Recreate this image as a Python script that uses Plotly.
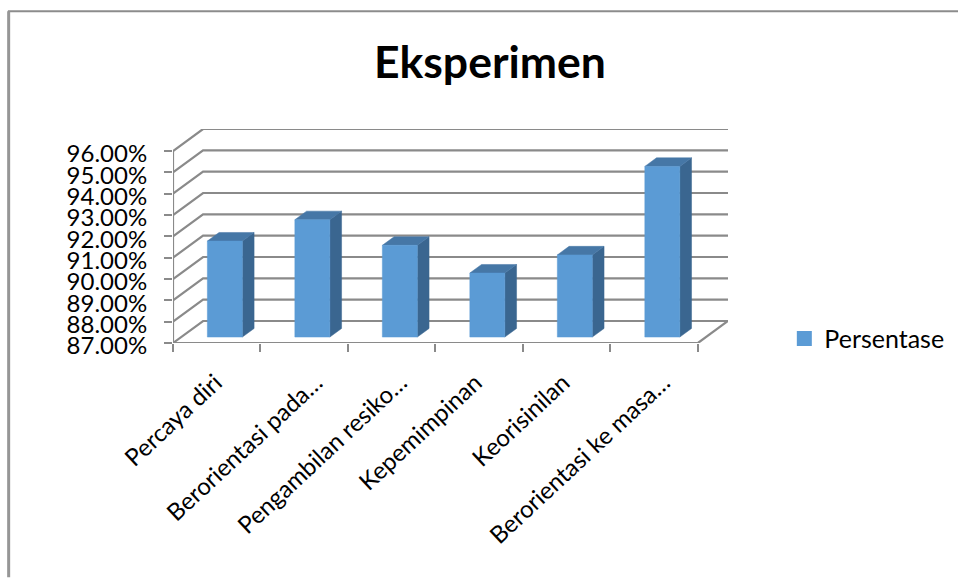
import plotly.graph_objects as go

# Chart content
categories = ["Percaya diri", "Berorientasi pada…", "Pengambilan resiko…",
              "Kepemimpinan", "Keorisinilan", "Berorientasi ke masa…"]
values = [91.5, 92.5, 91.3, 90.0, 90.85, 95.0]
y_ticks = [87, 88, 89, 90, 91, 92, 93, 94, 95, 96]
y_tick_labels = [f"{v:.2f}%" for v in y_ticks]
label_shift = [-0.015, 0.135, 0.10, -0.045, -0.04, 0.105]

# Oblique projection of the box: depth 1 is the back wall
DX, DY = 30 / 87.33, 22 / 21.33
BAR_WIDTH = 0.4
D0, D1 = 0.27, 0.66
FLOOR, CEIL = y_ticks[0], y_ticks[-1]
AXIS = "#8A8A8A"
FONT = "Lato, Carlito, Calibri, sans-serif"
PLOT_W, PLOT_H = 554.7, 214.3
LEFT, TOP = 173, 129


def proj(x, v, d):
    return x + d * DX, v + d * DY


def polygon(points, color):
    xs, ys = zip(*points)
    return go.Scatter(x=list(xs) + [xs[0]], y=list(ys) + [ys[0]], mode="lines",
                      fill="toself", fillcolor=color, line=dict(color=color, width=0.5),
                      showlegend=False, hoverinfo="skip", cliponaxis=False)


fig = go.Figure()

# Back wall gridlines and left wall diagonals
gx, gy = [], []
for v in y_ticks:
    a, b, c = proj(0, v, 0), proj(0, v, 1), proj(6, v, 1)
    gx += [a[0], b[0], c[0], None]
    gy += [a[1], b[1], c[1], None]
# Right edge of the floor
a, b = proj(6, FLOOR, 0), proj(6, FLOOR, 1)
gx += [a[0], b[0], None]
gy += [a[1], b[1], None]
fig.add_trace(go.Scatter(x=gx, y=gy, mode="lines", line=dict(color=AXIS, width=2.2),
                         showlegend=False, hoverinfo="skip", cliponaxis=False))

# Front axis lines
fig.add_trace(go.Scatter(x=[0, 0, 6], y=[CEIL, FLOOR, FLOOR], mode="lines",
                         line=dict(color=AXIS, width=2.2), showlegend=False,
                         hoverinfo="skip", cliponaxis=False))

# Bars: side, top, then front face
for i, v in enumerate(values):
    l, r = i + 0.5 - BAR_WIDTH / 2, i + 0.5 + BAR_WIDTH / 2
    fig.add_trace(polygon([proj(r, FLOOR, D0), proj(r, FLOOR, D1),
                           proj(r, v, D1), proj(r, v, D0)], "#3A6690"))
    fig.add_trace(polygon([proj(l, v, D0), proj(r, v, D0),
                           proj(r, v, D1), proj(l, v, D1)], "#4677A6"))
    fig.add_trace(polygon([proj(l, FLOOR, D0), proj(r, FLOOR, D0),
                           proj(r, v, D0), proj(l, v, D0)], "#5B9BD5"))

# Legend entry
fig.add_trace(go.Scatter(x=[None], y=[None], mode="markers", name="Persentase",
                         marker=dict(symbol="square", size=15, color="#5B9BD5")))

fig.update_layout(
    width=958, height=578, autosize=False,
    paper_bgcolor="white", plot_bgcolor="white",
    margin=dict(l=LEFT, r=230.3, t=TOP, b=234.7, autoexpand=False),
    font=dict(family=FONT, color="black"),
    title=dict(text="<b>Eksperimen</b>", font=dict(size=44.5, family=FONT, color="black"),
               x=490 / 958, xanchor="center", y=1 - 62 / 578, yanchor="middle"),
    xaxis=dict(range=[0, 6 + DX], showgrid=False, zeroline=False, showline=False,
               tickmode="array",
               tickvals=[i + 0.5 + s for i, s in enumerate(label_shift)],
               ticktext=categories, tickangle=-43, ticks="", ticklabelstandoff=20,
               tickfont=dict(size=24, family=FONT, color="black"),
               minor=dict(tickmode="array", tickvals=list(range(7)), ticks="outside",
                          ticklen=8, tickwidth=2, tickcolor=AXIS, showgrid=False)),
    yaxis=dict(range=[FLOOR, CEIL + DY], showgrid=False, zeroline=False, showline=False,
               tickmode="array", tickvals=y_ticks, ticktext=y_tick_labels,
               ticks="outside", ticklen=8, tickwidth=2, tickcolor=AXIS,
               ticklabelstandoff=12, ticklabelshift=3,
               tickfont=dict(size=24, family=FONT, color="black")),
    legend=dict(x=(784 - LEFT) / PLOT_W, xanchor="left",
                y=1 - (339 - TOP) / PLOT_H, yanchor="middle",
                font=dict(size=25, family=FONT, color="black"), bgcolor="rgba(0,0,0,0)",
                itemsizing="trace", itemwidth=30),
    shapes=[dict(type="line", xref="paper", yref="paper", layer="below",
                 x0=-165 / PLOT_W, x1=785 / PLOT_W, y0=1 + 118 / PLOT_H, y1=1 + 118 / PLOT_H,
                 line=dict(color="#8C8C8C", width=2)),
            dict(type="line", xref="paper", yref="paper", layer="below",
                 x0=-164.25 / PLOT_W, x1=-164.25 / PLOT_W, y0=1 + 118 / PLOT_H, y1=-234.7 / PLOT_H,
                 line=dict(color="#969696", width=3))],
)

fig.write_html("out.html")
